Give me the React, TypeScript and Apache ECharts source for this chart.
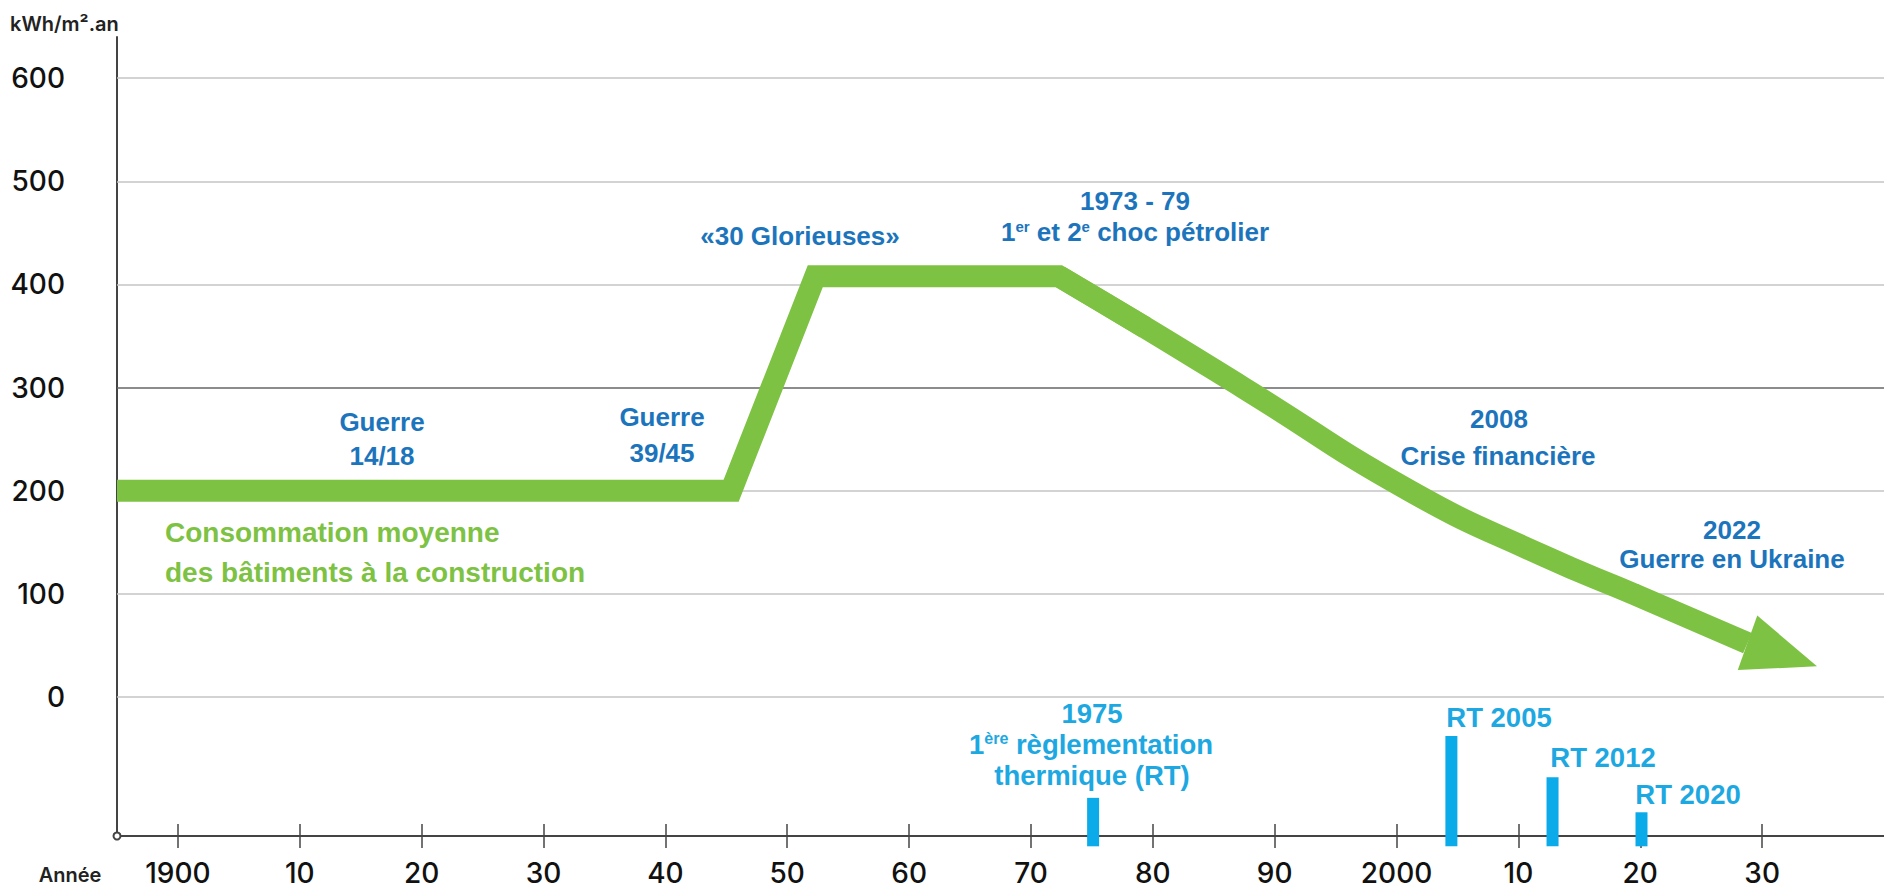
import React, { useEffect, useRef } from "react";
import * as echarts from "echarts";

// ---- data ----
const yearTicks = [1900, 1910, 1920, 1930, 1940, 1950, 1960, 1970, 1980, 1990, 2000, 2010, 2020, 2030];
const valueTicks = [0, 100, 200, 300, 400, 500, 600];

// average consumption of new buildings (kWh/m².an)
const stepYears = [1895, 1945.4, 1952.3, 1972.3, 1979.4];
const stepValues = [200, 200, 408, 408, 358];

const declineYears = [1972.3, 1979.4, 1987.4, 2001.2, 2012.2, 2019.6, 2028.8];
const declineValues = [408, 358, 300, 199, 136, 99, 52];

// arrow head: tip, upper base corner, lower base corner
const arrowYears = [2034.5, 2029.6, 2028.0];
const arrowValues = [29.6, 78.9, 25.9];

// thermal regulations (RT) markers
const rtYears = [1975.1, 2004.5, 2012.8, 2020.1];
const rtTops = [-98, -38, -78, -112];
const rtBase = -145;

const GREEN = "#7DC243";
const BLUE = "#1C75BC";
const CYAN = "#1DA8E2";
const BAR = "#0BAAE8";

export default function App() {
  const ref = useRef<HTMLDivElement>(null);

  useEffect(() => {
    const chart = echarts.init(ref.current as HTMLDivElement, null, { renderer: "svg" });
    const AX = "Inter, 'Liberation Sans', sans-serif";
    const TX = "'Liberation Sans', Arial, sans-serif";

    const txt = (x: number, y: number, t: string, fill: string, size: number, extra: any = {}) => ({
      type: "text",
      x,
      y,
      silent: true,
      z: 10,
      style: {
        text: t,
        fill,
        fontSize: size,
        fontWeight: "bold",
        fontFamily: TX,
        align: "center",
        verticalAlign: "middle",
        ...extra,
      },
    });
    const supRich = (fill: string, size: number) => ({
      sup: { fontSize: size, fontWeight: "bold", fontFamily: TX, verticalAlign: "top", fill },
    });

    const option: any = {
      animation: false,
      backgroundColor: "#ffffff",
      grid: { left: 117, right: 0, top: 37, bottom: 59, containLabel: false, outerBoundsMode: "none" },
      xAxis: [
        {
          type: "value",
          min: 1895,
          max: 2040,
          position: "bottom",
          axisLine: { show: true, onZero: false, lineStyle: { color: "#444", width: 2 } },
          axisTick: { show: true, inside: false, length: 12, customValues: yearTicks, lineStyle: { color: "#444", width: 1.5 } },
          axisLabel: {
            customValues: yearTicks,
            margin: 23,
            fontSize: 28,
            fontWeight: 500,
            fontFamily: AX,
            color: "#111",
            formatter: (v: number) => (v % 100 === 0 ? String(v) : String(v % 100)),
          },
          splitLine: { show: false },
        },
        {
          type: "value",
          min: 1895,
          max: 2040,
          position: "bottom",
          axisLine: { show: false, onZero: false },
          axisTick: { show: true, inside: true, length: 12, customValues: yearTicks, lineStyle: { color: "#444", width: 1.5 } },
          axisLabel: { show: false },
          splitLine: { show: false },
        },
      ],
      yAxis: {
        type: "value",
        min: -135,
        max: 640,
        axisLine: {
          show: true,
          onZero: false,
          lineStyle: { color: "#444", width: 2 },
          symbol: ["emptyCircle", "none"],
          symbolSize: [7, 7],
        },
        axisTick: { show: false },
        splitLine: { show: false },
        axisLabel: {
          customValues: valueTicks,
          margin: 52,
          fontSize: 28,
          fontWeight: 500,
          fontFamily: AX,
          color: "#111",
        },
      },
      series: [
        {
          type: "line",
          name: "palier",
          data: stepYears.map((y, i) => [y, stepValues[i]]),
          symbol: "none",
          smooth: false,
          z: 3,
          lineStyle: { color: GREEN, width: 22, join: "miter", cap: "butt" },
          markLine: {
            silent: true,
            z: 1,
            symbol: ["none", "none"],
            label: { show: false },
            data: valueTicks.map((v) => ({
              yAxis: v,
              lineStyle: { color: v === 300 ? "#666" : "#c4c4c4", width: 1.5, type: "solid" },
            })),
          },
        },
        {
          type: "line",
          name: "baisse",
          data: declineYears.map((y, i) => [y, declineValues[i]]),
          symbol: "none",
          smooth: 0.5,
          z: 3,
          lineStyle: { color: GREEN, width: 22, cap: "butt" },
        },
        {
          type: "custom",
          name: "fleche",
          z: 3,
          silent: true,
          data: [[arrowYears[0], arrowValues[0], arrowYears[1], arrowValues[1], arrowYears[2], arrowValues[2]]],
          renderItem: (_p: any, api: any) => {
            const a = api.coord([api.value(0), api.value(1)]);
            const b = api.coord([api.value(2), api.value(3)]);
            const c = api.coord([api.value(4), api.value(5)]);
            return { type: "polygon", shape: { points: [a, b, c] }, style: { fill: GREEN } };
          },
        },
        {
          type: "custom",
          name: "RT",
          z: 3,
          silent: true,
          clip: false,
          data: rtYears.map((y, i) => [y, rtTops[i], rtBase]),
          renderItem: (_p: any, api: any) => {
            const top = api.coord([api.value(0), api.value(1)]);
            const bot = api.coord([api.value(0), api.value(2)]);
            return {
              type: "rect",
              shape: { x: top[0] - 6, y: top[1], width: 12, height: bot[1] - top[1] },
              style: { fill: BAR },
            };
          },
        },
      ],
      graphic: [
        txt(10, 24, "kWh/m².an", "#222", 20, { align: "left", fontFamily: AX, fontWeight: 600 }),
        txt(70, 875, "Année", "#222", 20, { fontFamily: AX, fontWeight: 600 }),
        txt(382, 422, "Guerre", BLUE, 26),
        txt(382, 456, "14/18", BLUE, 26),
        txt(662, 417, "Guerre", BLUE, 26),
        txt(662, 453, "39/45", BLUE, 26),
        txt(800, 236, "«30 Glorieuses»", BLUE, 26),
        txt(1135, 201, "1973 - 79", BLUE, 26),
        txt(1135, 232, "1{sup|er} et 2{sup|e} choc pétrolier", BLUE, 26, { rich: supRich(BLUE, 15) }),
        txt(1499, 419, "2008", BLUE, 26),
        txt(1498, 456, "Crise financière", BLUE, 26),
        txt(1732, 530, "2022", BLUE, 26),
        txt(1732, 559, "Guerre en Ukraine", BLUE, 26),
        txt(165, 532, "Consommation moyenne", GREEN, 28, { align: "left" }),
        txt(165, 572, "des bâtiments à la construction", GREEN, 28, { align: "left" }),
        txt(1092, 713, "1975", CYAN, 27.5),
        txt(1091, 744, "1{sup|ère} règlementation", CYAN, 27.5, { rich: supRich(CYAN, 16) }),
        txt(1092, 775, "thermique (RT)", CYAN, 27.5),
        txt(1499, 717, "RT 2005", CYAN, 27.5),
        txt(1603, 757, "RT 2012", CYAN, 27.5),
        txt(1688, 794, "RT 2020", CYAN, 27.5),
      ],
    };

    chart.setOption(option);
    return () => chart.dispose();
  }, []);

  return (
    <div
      ref={ref}
      style={{ position: "absolute", left: 0, top: 0, width: 1884, height: 895, background: "#fff" }}
    />
  );
}
